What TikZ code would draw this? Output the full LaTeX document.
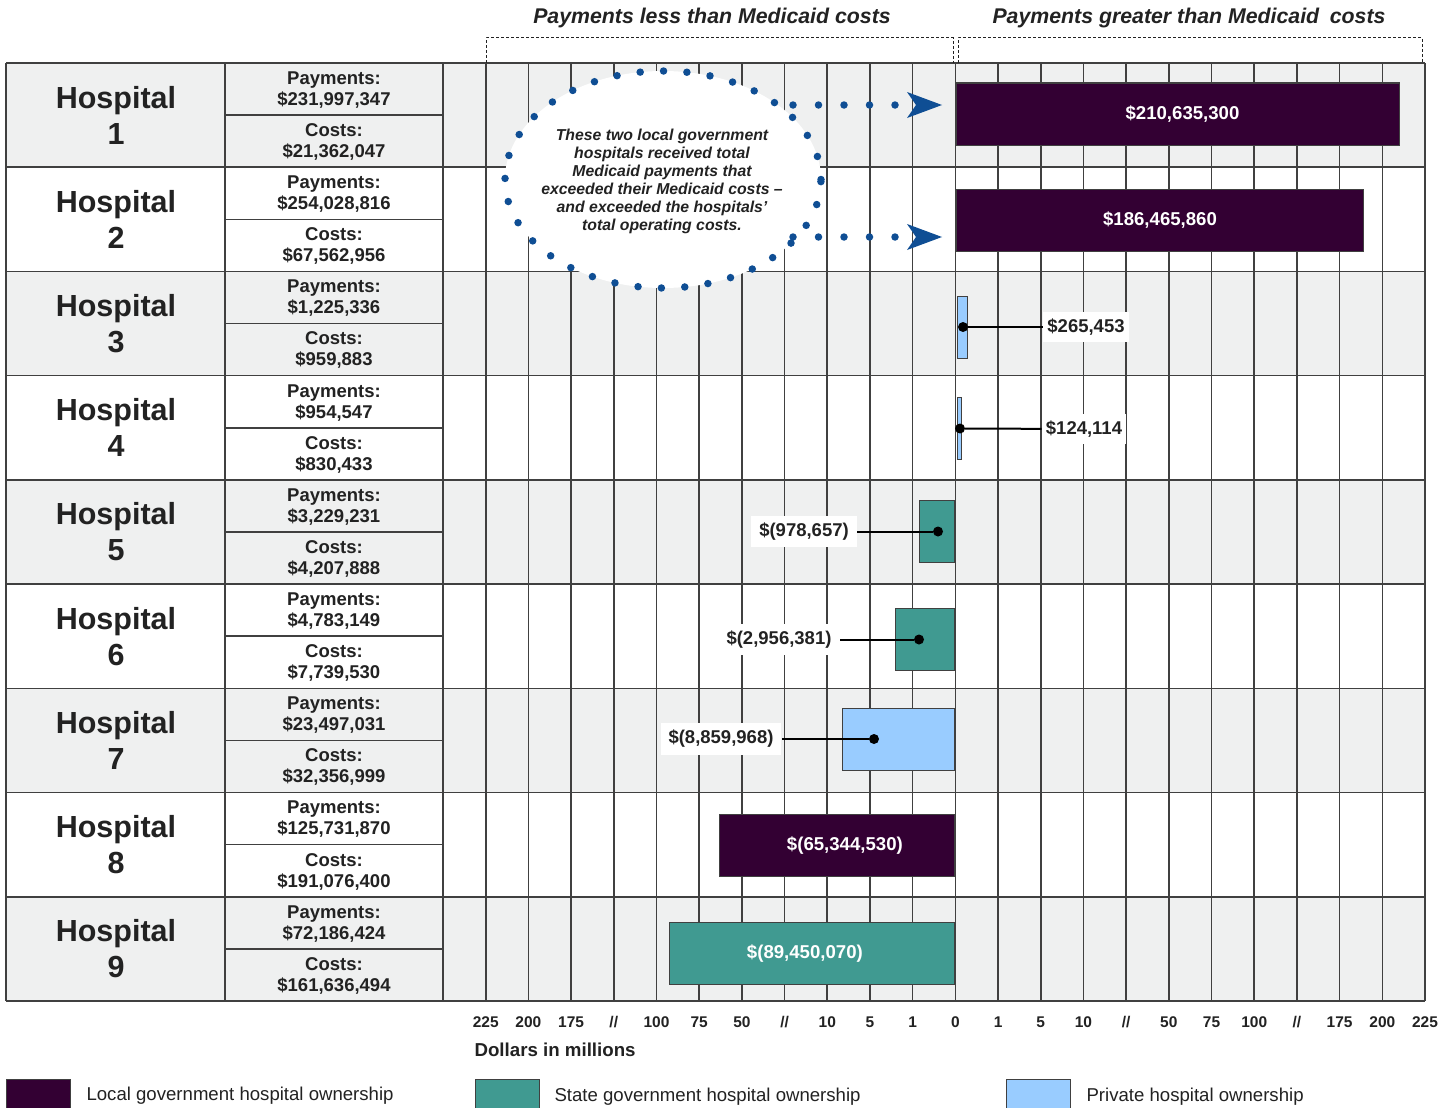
\documentclass[tikz,border=0pt]{standalone}
\usepackage{fontspec}
\setmainfont{Liberation Sans}
\usetikzlibrary{arrows.meta,shapes.geometric}
\definecolor{plum}{HTML}{330033}
\definecolor{tealbar}{HTML}{409A91}
\definecolor{lblue}{HTML}{99CCFF}
\definecolor{rowgray}{HTML}{EFF0F0}
\definecolor{gridc}{HTML}{404040}
\definecolor{dotblue}{HTML}{0F4E94}
\definecolor{ink}{HTML}{222222}
\begin{document}
\begin{tikzpicture}[x=1pt,y=-1pt,
  gridline/.style={draw=gridc,line width=1.6pt},
  hosp/.style={font=\fontsize{30.5}{36}\selectfont\bfseries,text=ink,align=center},
  cell/.style={font=\fontsize{18.5}{21}\selectfont\bfseries,text=ink,align=center},
  hbar/.style={draw=gridc,line width=1pt,minimum height=62pt,inner sep=0pt,font=\fontsize{18.6}{20}\selectfont\bfseries,text=white},
  vlabel/.style={fill=white,font=\fontsize{18.5}{20}\selectfont\bfseries,text=ink,inner xsep=8pt,inner ysep=7pt},
  leader/.style={draw=black,line width=2pt},
  blackdot/.style={circle,fill=black,inner sep=0pt,minimum size=10pt},
  axislab/.style={font=\fontsize{15.5}{17}\selectfont\bfseries,text=ink},
  header/.style={font=\fontsize{21.3}{23}\selectfont\bfseries\itshape,text=ink},
  bracket/.style={draw=ink,line width=1pt,dash pattern=on 3pt off 2pt},
  calloutring/.style={ellipse,fill=white,draw=dotblue,line width=7.5pt,line cap=round,dash pattern=on 0pt off 23.4pt,minimum width=316pt,minimum height=217pt,inner sep=0pt},
  callouttext/.style={font=\fontsize{15.8}{18}\selectfont\bfseries\itshape,text=ink,align=center},
  dotline/.style={draw=dotblue,line width=7.5pt,line cap=round,dash pattern=on 0pt off 25.5pt,-{Stealth[length=35pt,width=26pt,inset=9pt,fill=dotblue,line width=0pt]}},
  swatch/.style={draw=gridc,line width=1pt,minimum width=64pt,minimum height=34pt,anchor=north west,inner sep=0pt},
  legtext/.style={font=\fontsize{18.6}{20}\selectfont,text=ink,anchor=west}
]
\useasboundingbox (0,0) rectangle (1451,1108);
\clip (0,0) rectangle (1451,1108);
\fill[white] (0,0) rectangle (1451,1108);

% row backgrounds
\foreach \i in {1,3,5,7,9}
  \fill[rowgray] (6,{63+104.22*(\i-1)}) rectangle (1425,{63+104.22*\i});

% grid
\foreach \i in {0,...,9}
  \draw[gridline] (6,{63+104.22*\i}) -- (1425,{63+104.22*\i});
\foreach \i in {1,...,9}
  \draw[gridline] (225,{63+104.22*(\i-0.5)}) -- (443,{63+104.22*(\i-0.5)});
\foreach \k in {0,...,23}
  \draw[gridline] ({443+42.696*\k},63) -- ({443+42.696*\k},1001);
\draw[gridline] (6,63) -- (6,1001);
\draw[gridline] (225,63) -- (225,1001);

% hospital names
\foreach \i in {1,...,9}
  \node[hosp] (h\i) at (116,{63+104.22*(\i-0.5)}) {Hospital\\\i};

% payments / costs cells
\foreach \i/\p/\c in {1/{231,997,347}/{21,362,047},2/{254,028,816}/{67,562,956},3/{1,225,336}/{959,883},4/{954,547}/{830,433},5/{3,229,231}/{4,207,888},6/{4,783,149}/{7,739,530},7/{23,497,031}/{32,356,999},8/{125,731,870}/{191,076,400},9/{72,186,424}/{161,636,494}}{
  \node[cell] (p\i) at (334,{63+104.22*(\i-1)+27}) {Payments:\\\$\p};
  \node[cell] (c\i) at (334,{63+104.22*(\i-1)+79}) {Costs:\\\$\c};
}

% header brackets and titles
\draw[bracket] (486,63) -- (486,38) -- (953,38) -- (953,63);
\draw[bracket] (958,63) -- (958,38) -- (1422,38) -- (1422,63);
\node[header] (hl) at (712,18) {Payments less than Medicaid costs};
\node[header] (hr) at (1189,18) {Payments greater than Medicaid\hspace{0.5em}costs};

% callout
\node[calloutring] (co) at (663,179.5) {};
\node[callouttext] (cot) at (662,181) {These two local government\\hospitals received total\\Medicaid payments that\\exceeded their Medicaid costs --\\and exceeded the hospitals'\\total operating costs.};

% bars
\node[hbar,fill=plum,minimum width=443pt,anchor=west,text width=443pt,align=center] (b1) at (956,114) {\hspace*{9pt}\$210,635,300};
\node[hbar,fill=plum,minimum width=407pt,anchor=west] (b2) at (956,220.5) {\$186,465,860};
\node[hbar,fill=lblue,minimum width=10pt,anchor=west] (b3) at (957,327) {};
\node[hbar,fill=lblue,minimum width=4pt,anchor=west] (b4) at (957,428.5) {};
\node[hbar,fill=tealbar,minimum width=35pt,anchor=east] (b5) at (955.4,531.5) {};
\node[hbar,fill=tealbar,minimum width=59pt,anchor=east] (b6) at (955.4,639.5) {};
\node[hbar,fill=lblue,minimum width=112pt,anchor=east] (b7) at (955.4,739) {};
\node[hbar,fill=plum,minimum width=235pt,anchor=east,text width=235pt,align=center] (b8) at (955.4,845.5) {\hspace*{15pt}\$(65,344,530)};
\node[hbar,fill=tealbar,minimum width=285pt,anchor=east,text width=285pt,align=center] (b9) at (955.4,953.5) {\$(89,450,070)\hspace*{15pt}};

% dotted arrows
\coordinate (s1) at (793,105);
\coordinate (s2) at (793,237);
\draw[dotline,shorten >=14pt] (s1) -- (s1 -| b1.west);
\draw[dotline,shorten >=14pt] (s2) -- (s2 -| b2.west);

% value labels with leaders
\node[blackdot] (d3) at (963,327) {};
\node[vlabel,inner xsep=4pt] (l3) at (1086,327) {\$265,453};
\draw[leader] (d3) -- (l3);
\node[blackdot] (d4) at (960,428.5) {};
\node[vlabel,inner xsep=4pt] (l4) at (1084,429) {\$124,114};
\draw[leader] (d4) -- (l4);
\node[blackdot] (d5) at (938,531.5) {};
\node[vlabel] (l5) at (804,531.5) {\$(978,657)};
\draw[leader] (d5) -- (l5);
\node[blackdot] (d6) at (919,639.5) {};
\node[vlabel] (l6) at (779,639.5) {\$(2,956,381)};
\draw[leader] (d6) -- (l6);
\node[blackdot] (d7) at (874,739) {};
\node[vlabel] (l7) at (721,739) {\$(8,859,968)};
\draw[leader] (d7) -- (l7);

% axis labels
\foreach \k/\t in {1/225,2/200,3/175,4/{//},5/100,6/75,7/50,8/{//},9/10,10/5,11/1,12/0,13/1,14/5,15/10,16/{//},17/50,18/75,19/100,20/{//},21/175,22/200,23/225}
  \node[axislab] (ax\k) at ({443+42.696*\k},1022) {\t};
\node[font=\fontsize{18.7}{20}\selectfont\bfseries,text=ink,anchor=west] (unit) at (471,1050) {Dollars in millions};

% legend
\node[swatch,fill=plum] (sw1) at (6,1079) {};
\node[legtext] (lt1) at (83,1096) {Local government hospital ownership};
\node[swatch,fill=tealbar] (sw2) at (475,1079) {};
\node[legtext] (lt2) at (551,1097) {State government hospital ownership};
\node[swatch,fill=lblue] (sw3) at (1006,1079) {};
\node[legtext] (lt3) at (1083,1097) {Private hospital ownership};
\end{tikzpicture}
\end{document}
